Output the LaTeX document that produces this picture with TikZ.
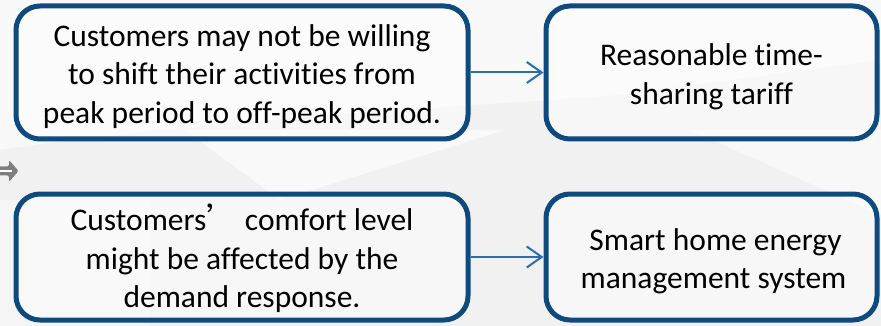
\documentclass[tikz,border=0pt]{standalone}
\usepackage{fontspec}
\setmainfont[Ligatures=CommonOff]{Carlito}
\newfontfamily\cjk{Noto Sans CJK SC}
\usetikzlibrary{arrows.meta}
\definecolor{boxblue}{HTML}{0F4A7E}
\definecolor{linkblue}{HTML}{2A6DB0}
\definecolor{paper}{HTML}{F1F1F1}
\definecolor{marker}{HTML}{7F7F7F}
\newcommand{\lift}{\rule{0pt}{30pt}}
\tikzset{
  card/.style={draw=boxblue, line width=5pt, rounded corners=24pt, fill=white,
    fill opacity=0.45, text opacity=1, align=center, inner sep=0pt,
    font=\fontsize{31.5}{38.5}\selectfont},
  link/.style={draw=linkblue, line width=2pt,
    -{Straight Barb[length=15pt, width=21pt, line width=2pt]}}
}
\begin{document}
\begin{tikzpicture}[x=1pt, y=-1pt]
  % page and soft light streaks of the backdrop
  \fill[paper] (0,0) rectangle (881,326);
  \fill[white, opacity=0.5] (0,150) .. controls (200,120) and (420,110) .. (620,95)
    -- (881,60) -- (881,0) -- (0,0) -- cycle;
  \fill[white, opacity=0.6] (185,130) -- (505,130) -- (280,200) -- cycle;
  \fill[white, opacity=0.5] (690,130) -- (881,130) -- (881,215) -- cycle;
  \fill[white, opacity=0.35] (0,200) -- (150,200) -- (150,326) -- (0,326) -- cycle;
  \useasboundingbox (0,0) rectangle (881,326);

  % side marker: grey block arrow with a light core
  \fill[marker, rounded corners=1.5pt] (-3,166.5) -- (9,166.5) -- (9,160) -- (18.5,171)
    -- (9,182) -- (9,175.5) -- (-3,175.5) -- cycle;
  \draw[white, line width=2.2pt] (-3,171) -- (11.5,171);

  % cards
  \node[card, minimum width=452pt, minimum height=133pt] (why1) at (242,72.5)
    {\lift Customers may not be willing\\to shift their activities from\\peak period to off-peak period.};
  \node[card, minimum width=331pt, minimum height=133pt] (fix1) at (711.5,72.5)
    {\lift Reasonable time-\\sharing tariff};
  \node[card, minimum width=452pt, minimum height=126pt] (why2) at (242,257)
    {\lift Customers\makebox[1em][l]{\cjk ’} comfort level\\might be affected by the\\demand response.};
  \node[card, minimum width=331pt, minimum height=126pt] (fix2) at (711.5,257)
    {\lift\hspace*{8pt}Smart home energy\\\hspace*{4pt}management system};

  % links
  \draw[link] (why1.east) -- (fix1.west);
  \draw[link] (why2.east) -- (fix2.west);
\end{tikzpicture}
\end{document}
